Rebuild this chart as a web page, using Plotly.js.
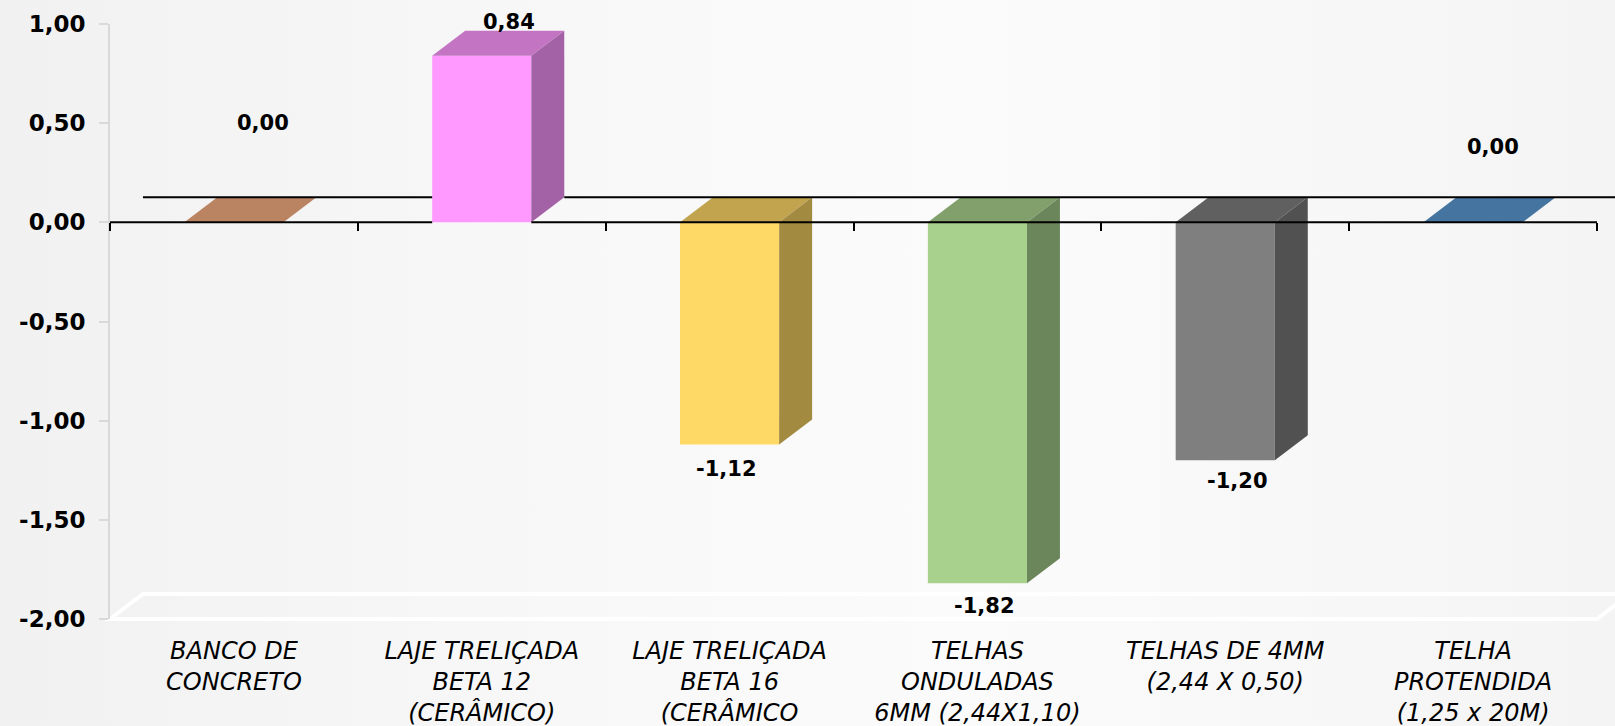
<!DOCTYPE html>
<html>
<head>
<meta charset="utf-8">
<script src="https://cdn.plot.ly/plotly-3.0.1.min.js"></script>
<style>
  html, body { margin: 0; padding: 0; }
  body { width: 1615px; height: 726px; overflow: hidden;
         background: linear-gradient(to right, #f1f1f1 0%, #f8f8f8 35%, #fbfbfb 60%, #f7f7f7 85%, #f4f4f4 100%); }
  #chart { width: 1615px; height: 726px; }
</style>
</head>
<body>
<div id="chart"></div>
<script>
// ---- data ----
const tickLabels = [
  'BANCO DE<br>CONCRETO',
  'LAJE TRELIÇADA<br>BETA 12<br>(CERÂMICO)',
  'LAJE TRELIÇADA<br>BETA 16<br>(CERÂMICO',
  'TELHAS<br>ONDULADAS<br>6MM (2,44X1,10)',
  'TELHAS DE 4MM<br>(2,44 X 0,50)',
  'TELHA<br>PROTENDIDA<br>(1,25 x 20M)'
];
const values = [0.00, 0.84, -1.12, -1.82, -1.20, 0.00];
const yTickVals = [1.0, 0.5, 0.0, -0.5, -1.0, -1.5, -2.0];
const yTickLabels = ['1,00', '0,50', '0,00', '-0,50', '-1,00', '-1,50', '-2,00'];

// ---- styles ----
const frontColors = ['#F4B183', '#FF99FF', '#FFD966', '#A9D18E', '#7F7F7F', '#5B9BD5'];
const topColors   = ['#BA8463', '#C375C3', '#C2A44E', '#81A06C', '#606060', '#44749F'];
const sideColors  = ['#9C6F54', '#A362A6', '#A28A41', '#6C865B', '#515151', '#3A6388'];
// pixel shifts of the value labels (Excel 3D label placement)
const labelShift = [[29, 99], [27, 34], [-3, -25], [7, -23], [12, -21], [20, 75]];

const W = 0.40;      // bar width (category units)
const DX = 0.133;    // depth offset x (category units)
const DY = 0.126;    // depth offset y (value units)
const X0 = -0.5, X1 = values.length - 0.5;
const Y0 = -2, Y1 = 1;
const FONT = '"DejaVu Sans", Verdana, sans-serif';

const idx = values.map((_, i) => i);
const px = x => (x - X0) / (X1 - X0);
const py = y => (y - Y0) / (Y1 - Y0);

const traces = [];
traces.push({
  type: 'bar', x: idx, y: values, width: W,
  marker: { color: frontColors, line: { width: 0 } },
  hoverinfo: 'skip', showlegend: false
});
values.forEach((v, i) => {
  const top = Math.max(v, 0), bot = Math.min(v, 0);
  const xL = i - W / 2, xR = i + W / 2;
  traces.push({
    type: 'scatter', mode: 'lines', fill: 'toself', fillcolor: topColors[i],
    line: { width: 0 }, hoverinfo: 'skip', showlegend: false,
    x: [xL, xR, xR + DX, xL + DX, xL],
    y: [top, top, top + DY, top + DY, top]
  });
  if (v !== 0) {
    traces.push({
      type: 'scatter', mode: 'lines', fill: 'toself', fillcolor: sideColors[i],
      line: { width: 0 }, hoverinfo: 'skip', showlegend: false,
      x: [xR, xR + DX, xR + DX, xR, xR],
      y: [top, top + DY, bot + DY, bot, top]
    });
  }
});

// zero lines (front and back) with gaps where positive bars hide them
function segments(start, end, gaps) {
  const segs = []; let s = start;
  gaps.sort((a, b) => a[0] - b[0]).forEach(g => { if (g[0] > s) segs.push([s, g[0]]); s = Math.max(s, g[1]); });
  if (s < end) segs.push([s, end]);
  return segs;
}
const frontGaps = [], backGaps = [];
values.forEach((v, i) => { if (v > 0) { frontGaps.push([i - W / 2, i + W / 2]); backGaps.push([i - W / 2, i + W / 2 + DX]); } });
const shapes = [];
segments(X0, X1, frontGaps).forEach(s => shapes.push({
  type: 'line', xref: 'paper', yref: 'paper', x0: px(s[0]), x1: px(s[1]), y0: py(0), y1: py(0),
  line: { color: '#000', width: 2 }, layer: 'above'
}));
segments(X0 + DX, X1 + DX, backGaps).forEach(s => shapes.push({
  type: 'line', xref: 'paper', yref: 'paper', x0: px(s[0]), x1: px(s[1]), y0: py(DY), y1: py(DY),
  line: { color: '#000', width: 2 }, layer: 'above'
}));
// floor outline
shapes.push({
  type: 'path', xref: 'paper', yref: 'paper', layer: 'below',
  path: `M ${px(X0)},${py(Y0)} L ${px(X1)},${py(Y0)} L ${px(X1 + DX)},${py(Y0 + DY)} L ${px(X0 + DX)},${py(Y0 + DY)} Z`,
  line: { color: '#ffffff', width: 4 }, fillcolor: 'rgba(255,255,255,0)'
});

const annotations = values.map((v, i) => ({
  xref: 'x', yref: 'y', x: i, y: v, showarrow: false,
  xshift: labelShift[i][0], yshift: labelShift[i][1],
  text: v.toFixed(2).replace('.', ','),
  font: { family: FONT, size: 21, color: '#000', weight: 'bold' }
}));

const layout = {
  width: 1615, height: 726,
  margin: { l: 110, r: 18, t: 24, b: 107 },
  paper_bgcolor: 'rgba(0,0,0,0)', plot_bgcolor: 'rgba(0,0,0,0)',
  separators: ',.',
  showlegend: false,
  xaxis: {
    range: [X0, X1], tickvals: idx, ticktext: tickLabels,
    showline: false, showgrid: false, zeroline: false, ticks: '',
    tickfont: { family: FONT, size: 24, color: '#000', style: 'italic' },
    ticklabelstandoff: 15, fixedrange: true
  },
  xaxis2: {
    overlaying: 'x', anchor: 'free', position: py(0),
    range: [X0, X1], tickvals: idx.concat([values.length]).map(i => i - 0.5),
    showticklabels: false, showline: false, showgrid: false, zeroline: false,
    ticks: 'outside', ticklen: 8, tickwidth: 2, tickcolor: '#000'
  },
  yaxis: {
    range: [Y0, Y1], tickvals: yTickVals, ticktext: yTickLabels,
    showgrid: false, zeroline: false,
    showline: true, linecolor: '#d9d9d9', linewidth: 2,
    ticks: 'outside', ticklen: 9, tickwidth: 2, tickcolor: '#d9d9d9',
    tickfont: { family: FONT, size: 23, color: '#000', weight: 'bold' },
    ticklabelstandoff: 9
  },
  shapes: shapes,
  annotations: annotations
};
// invisible trace to activate xaxis2
traces.push({ type: 'scatter', x: [X0], y: [Y1], xaxis: 'x2', mode: 'markers', marker: { opacity: 0 }, hoverinfo: 'skip', showlegend: false });

Plotly.newPlot('chart', traces, layout, { staticPlot: true, displayModeBar: false });
</script>
</body>
</html>
